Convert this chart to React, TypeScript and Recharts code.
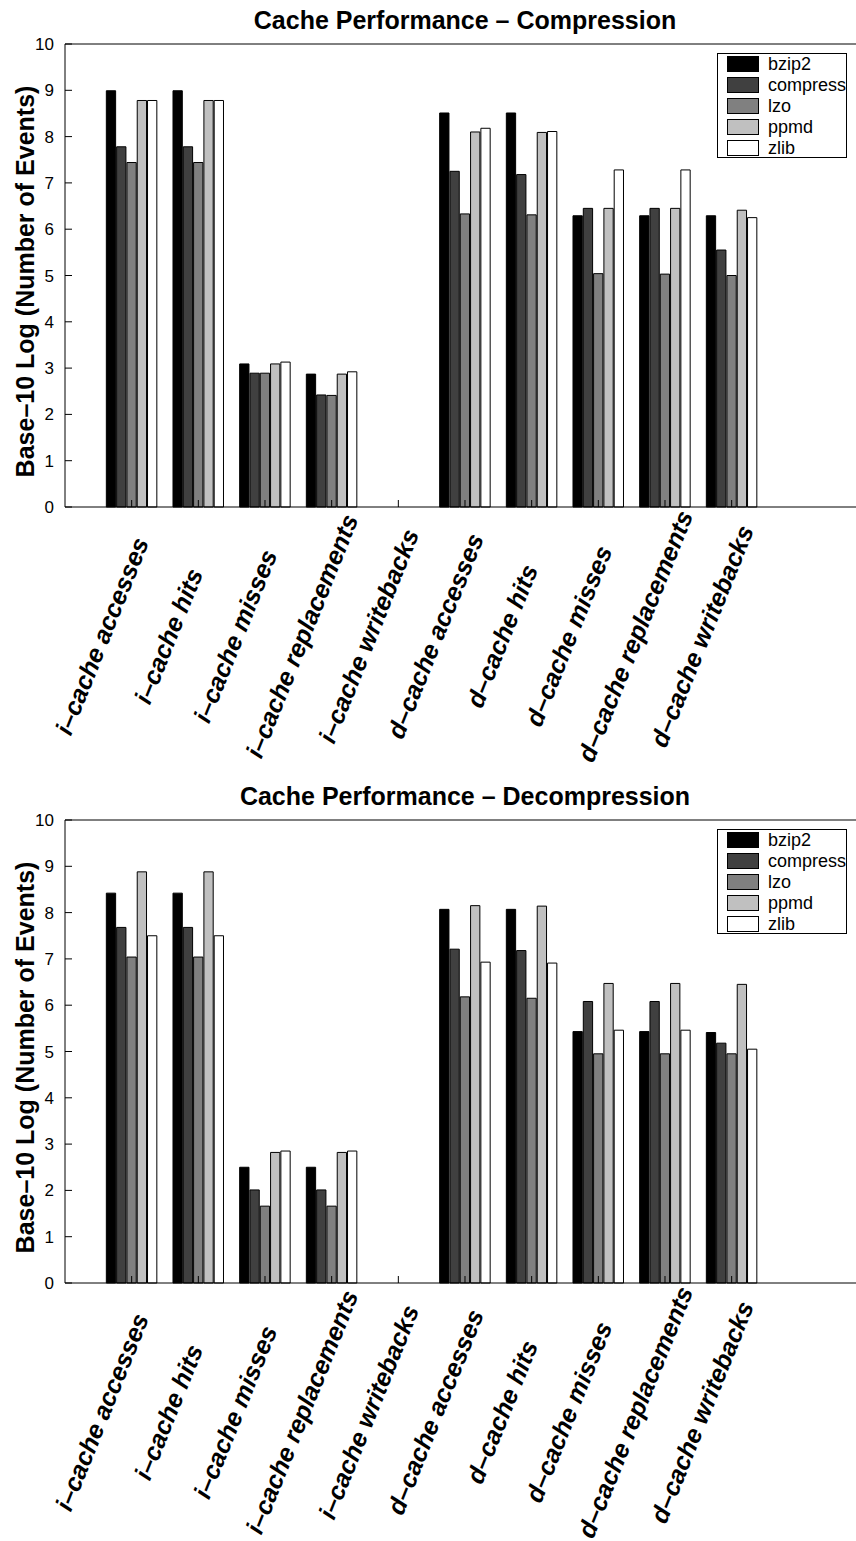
import React from 'react';
import { BarChart, Bar, XAxis, YAxis, Legend, Label } from 'recharts';

const categories = [
  'i–cache accesses',
  'i–cache hits',
  'i–cache misses',
  'i–cache replacements',
  'i–cache writebacks',
  'd–cache accesses',
  'd–cache hits',
  'd–cache misses',
  'd–cache replacements',
  'd–cache writebacks',
];

const seriesNames = ['bzip2', 'compress', 'lzo', 'ppmd', 'zlib'];
const seriesColors = ['#000000', '#404040', '#808080', '#c0c0c0', '#ffffff'];

// base-10 log of event counts, compression runs
const compBzip2 = [8.99, 8.99, 3.09, 2.87, 0, 8.51, 8.51, 6.29, 6.29, 6.29];
const compCompress = [7.78, 7.78, 2.89, 2.42, 0, 7.25, 7.18, 6.45, 6.45, 5.55];
const compLzo = [7.44, 7.44, 2.89, 2.41, 0, 6.33, 6.31, 5.04, 5.03, 5.0];
const compPpmd = [8.78, 8.78, 3.09, 2.87, 0, 8.1, 8.09, 6.45, 6.45, 6.41];
const compZlib = [8.78, 8.78, 3.13, 2.92, 0, 8.18, 8.11, 7.28, 7.28, 6.25];

// decompression runs
const decBzip2 = [8.42, 8.42, 2.5, 2.5, 0, 8.07, 8.07, 5.43, 5.43, 5.41];
const decCompress = [7.68, 7.68, 2.01, 2.01, 0, 7.21, 7.18, 6.08, 6.08, 5.18];
const decLzo = [7.04, 7.04, 1.66, 1.66, 0, 6.18, 6.15, 4.95, 4.95, 4.95];
const decPpmd = [8.88, 8.88, 2.82, 2.82, 0, 8.15, 8.14, 6.47, 6.47, 6.45];
const decZlib = [7.5, 7.5, 2.85, 2.85, 0, 6.93, 6.91, 5.46, 5.46, 5.05];

const yTicks = [0, 1, 2, 3, 4, 5, 6, 7, 8, 9, 10];

const FONT = '"Liberation Sans", Arial, Helvetica, sans-serif';

function buildRows(series: number[][]) {
  return categories.map((name, i) => {
    const row: Record<string, string | number> = { name };
    seriesNames.forEach((s, j) => {
      row[s] = series[j][i];
    });
    return row;
  });
}

function CategoryTick({ x, y, payload }: any) {
  return (
    <text
      transform={`translate(${x - 30}, ${y + 129}) rotate(-68)`}
      textAnchor="middle"
      dominantBaseline="central"
      fontFamily={FONT}
      fontSize={25}
      fontWeight="bold"
      fontStyle="italic"
      fill="#000"
    >
      {payload.value}
    </text>
  );
}

function YTitle({ viewBox }: any) {
  const cx = 25;
  const cy = viewBox.y + viewBox.height / 2 + 6;
  return (
    <text
      transform={`translate(${cx}, ${cy}) rotate(-90)`}
      textAnchor="middle"
      dominantBaseline="central"
      fontFamily={FONT}
      fontSize={25}
      fontWeight="bold"
      fill="#000"
    >
      Base–10 Log (Number of Events)
    </text>
  );
}

function LegendBox({ payload }: any) {
  return (
    <div
      style={{
        border: '1px solid #000',
        background: '#fff',
        width: 128,
        height: 103,
        boxSizing: 'content-box',
        padding: 0,
        fontFamily: FONT,
        fontSize: 18,
      }}
    >
      {(payload || []).map((entry: any) => (
        <div key={entry.value} style={{ display: 'flex', alignItems: 'center', height: 20.8, marginLeft: 9 }}>
          <div
            style={{
              width: 30,
              height: 14,
              background: entry.color,
              border: '1px solid #000',
              marginRight: 9,
            }}
          />
          <span style={{ lineHeight: '20px' }}>{entry.value}</span>
        </div>
      ))}
    </div>
  );
}

function Panel({ title, series, top }: { title: string; series: number[][]; top: number }) {
  const rows = buildRows(series);
  return (
    <div style={{ position: 'absolute', left: 0, top, width: 900, height: 765 }}>
      <div
        style={{
          position: 'absolute',
          left: 0,
          top: 7,
          width: 930,
          textAlign: 'center',
          fontFamily: FONT,
          fontSize: 25,
          fontWeight: 'bold',
          lineHeight: '26px',
        }}
      >
        {title}
      </div>
      <BarChart
        width={900}
        height={765}
        data={rows}
        margin={{ top: 43, right: 35, bottom: 0, left: 0 }}
        barSize={9.3}
        barGap={1}
      >
        <XAxis
          xAxisId="top"
          orientation="top"
          dataKey="name"
          height={1}
          padding={{ left: 33.33, right: 100 }}
          tick={false}
          tickSize={-7}
          axisLine={{ stroke: '#000' }}
          tickLine={{ stroke: '#000' }}
          interval={0}
        />
        <XAxis
          dataKey="name"
          height={258}
          padding={{ left: 33.33, right: 100 }}
          tick={<CategoryTick />}
          tickSize={-7}
          tickMargin={7}
          axisLine={{ stroke: '#000' }}
          tickLine={{ stroke: '#000' }}
          interval={0}
        />
        <YAxis
          width={65}
          domain={[0, 10]}
          ticks={yTicks}
          interval={0}
          tickSize={-7}
          tickMargin={18}
          axisLine={{ stroke: '#000' }}
          tickLine={{ stroke: '#000' }}
          tick={{ fill: '#000', fontSize: 17, fontFamily: FONT }}
        >
          <Label content={<YTitle />} />
        </YAxis>
        <Legend
          layout="horizontal"
          verticalAlign="middle"
          align="center"
          content={<LegendBox />}
          wrapperStyle={{ left: 717, top: 53, width: 130, height: 105 }}
        />
        {seriesNames.map((s, j) => (
          <Bar
            key={s}
            dataKey={s}
            name={s}
            fill={seriesColors[j]}
            stroke="#000"
            strokeWidth={1}
            isAnimationActive={false}
          />
        ))}
      </BarChart>
    </div>
  );
}

export default function App() {
  return (
    <div
      style={{
        position: 'absolute',
        left: 0,
        top: 0,
        width: 856,
        height: 1541,
        overflow: 'hidden',
        background: '#fff',
      }}
    >
      <Panel
        title="Cache Performance – Compression"
        series={[compBzip2, compCompress, compLzo, compPpmd, compZlib]}
        top={0}
      />
      <Panel
        title="Cache Performance – Decompression"
        series={[decBzip2, decCompress, decLzo, decPpmd, decZlib]}
        top={776}
      />
    </div>
  );
}
